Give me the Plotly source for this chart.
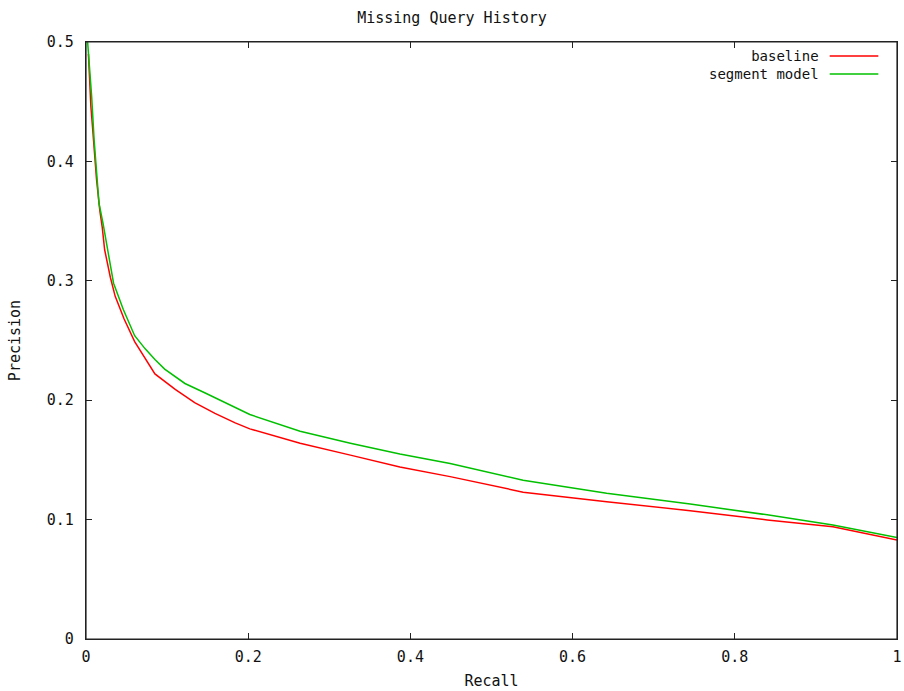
import plotly.graph_objects as go

# Baseline (red) precision-recall curve
baseline_recall = [0.003, 0.004, 0.006, 0.008, 0.010, 0.013, 0.017, 0.020, 0.023, 0.030,
                   0.036, 0.047, 0.060, 0.073, 0.085, 0.110, 0.134, 0.159, 0.184, 0.202,
                   0.264, 0.326, 0.387, 0.449, 0.539, 0.642, 0.745, 0.840, 0.921, 1.0]
baseline_precision = [0.490, 0.470, 0.446, 0.429, 0.410, 0.385, 0.359, 0.345, 0.326, 0.303,
                      0.287, 0.268, 0.249, 0.235, 0.222, 0.209, 0.198, 0.189, 0.181, 0.176,
                      0.164, 0.154, 0.144, 0.136, 0.123, 0.115, 0.1075, 0.0997, 0.094, 0.083]

# Segment model (green) precision-recall curve
segment_recall = [0.002, 0.004, 0.007, 0.010, 0.013, 0.016, 0.021, 0.026, 0.034, 0.046,
                  0.060, 0.073, 0.085, 0.097, 0.122, 0.147, 0.171, 0.202, 0.264, 0.326,
                  0.387, 0.449, 0.539, 0.642, 0.745, 0.840, 0.921, 1.0]
segment_precision = [0.500, 0.483, 0.454, 0.418, 0.387, 0.365, 0.348, 0.329, 0.298, 0.276,
                     0.254, 0.243, 0.234, 0.226, 0.214, 0.206, 0.198, 0.188, 0.174, 0.164,
                     0.155, 0.147, 0.133, 0.122, 0.113, 0.104, 0.0955, 0.085]

x_tick_vals = [0, 0.2, 0.4, 0.6, 0.8, 1]
x_tick_text = ["0", "0.2", "0.4", "0.6", "0.8", "1"]
y_tick_vals = [0, 0.1, 0.2, 0.3, 0.4, 0.5]
y_tick_text = ["0", "0.1", "0.2", "0.3", "0.4", "0.5"]

series_names = ["baseline", "segment model"]
series_colors = ["#ff0000", "#00c000"]

FONT = "DejaVu Sans Mono"
FS = 15

fig = go.Figure()
fig.add_trace(go.Scatter(x=baseline_recall, y=baseline_precision, mode="lines",
                         name=series_names[0], line=dict(color=series_colors[0], width=1.5),
                         showlegend=False))
fig.add_trace(go.Scatter(x=segment_recall, y=segment_precision, mode="lines",
                         name=series_names[1], line=dict(color=series_colors[1], width=1.5),
                         showlegend=False))

axis_common = dict(
    showgrid=False, zeroline=False, showline=True, linecolor="#222", linewidth=1.2,
    mirror="allticks", ticks="inside", ticklen=6, tickcolor="#222", tickwidth=1.2,
    tickfont=dict(family=FONT, size=FS, color="#111"), automargin=False,
)

fig.update_layout(
    width=904, height=691,
    paper_bgcolor="white", plot_bgcolor="white",
    margin=dict(l=86, r=7, t=42, b=52),
    title=dict(text="Missing Query History", x=0.5, xanchor="center", y=0.975, yanchor="middle",
               font=dict(family=FONT, size=FS, color="#111")),
    xaxis=dict(range=[0, 1.0000001], tickvals=x_tick_vals, ticktext=x_tick_text,
               title=dict(text="Recall", font=dict(family=FONT, size=FS, color="#111"), standoff=10),
               ticklabelstandoff=4, **axis_common),
    yaxis=dict(range=[0, 0.5], tickvals=y_tick_vals, ticktext=y_tick_text,
               title=dict(text="Precision", font=dict(family=FONT, size=FS, color="#111"), standoff=22),
               ticklabelstandoff=8, **axis_common),
    showlegend=False,
)

# plot frame
fig.add_shape(type="rect", xref="paper", yref="paper", x0=0, x1=1, y0=0, y1=1,
              line=dict(color="#222", width=1.2), layer="above")

# gnuplot-style key: text right-aligned, line sample to the right
fig.add_annotation(xref="paper", yref="paper", x=0.9065, y=0.9615,
                   text="<br>".join(series_names), align="right",
                   showarrow=False, xanchor="right", yanchor="middle",
                   font=dict(family=FONT, size=14, color="#111"))
key_rows = [0.9765, 0.9464]
for color, yy in zip(series_colors, key_rows):
    fig.add_shape(type="line", xref="paper", yref="paper", x0=0.917, x1=0.977, y0=yy, y1=yy,
                  line=dict(color=color, width=1.5))

fig.write_html("out.html", config={"displayModeBar": False},
               post_script="document.body.style.margin='0';document.body.style.overflow='hidden';")
